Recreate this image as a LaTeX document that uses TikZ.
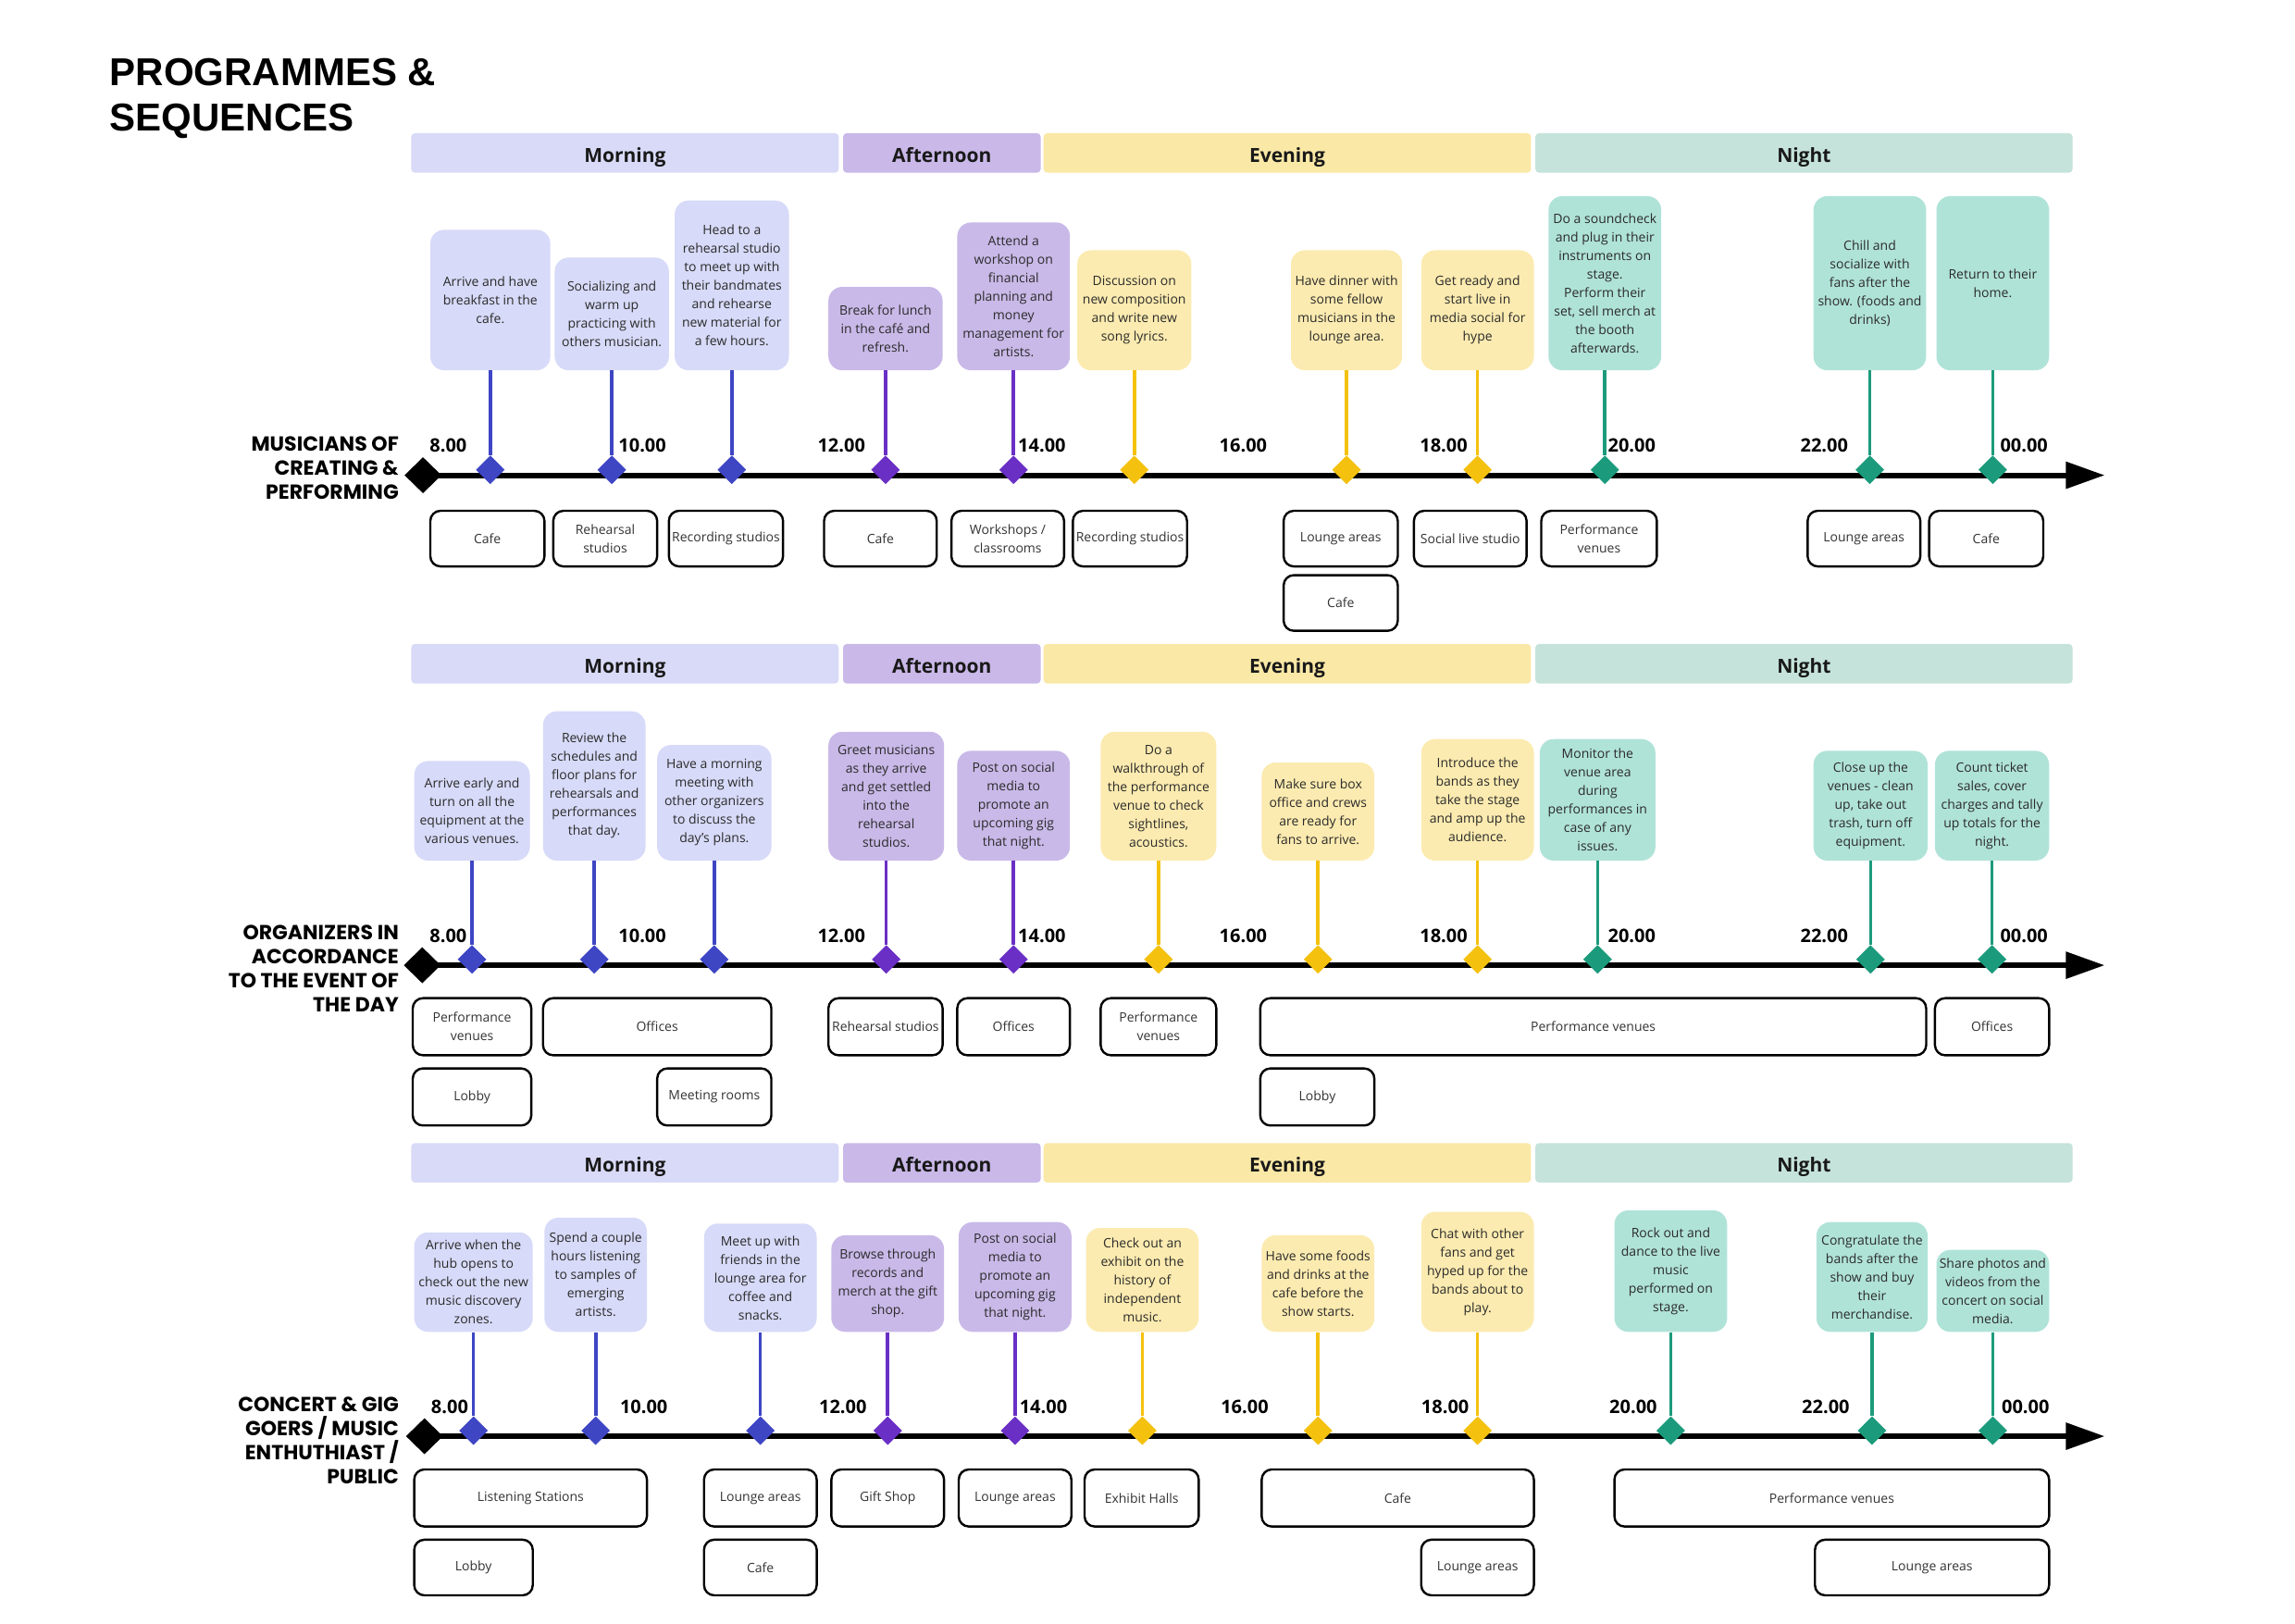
\documentclass[tikz,border=0pt]{standalone}
\usepackage{fontspec}
\setmainfont{Open Sans}
\newfontfamily\titleff{Liberation Sans}
\newfontfamily\rowff{Poppins}
\usetikzlibrary{shapes.geometric,arrows.meta}
\definecolor{barM}{HTML}{D8DAF7}
\definecolor{barA}{HTML}{C9B8E8}
\definecolor{barE}{HTML}{FAE8A6}
\definecolor{barN}{HTML}{C5E3DA}
\definecolor{cardM}{HTML}{D7DAF8}
\definecolor{cardA}{HTML}{C9B9E8}
\definecolor{cardE}{HTML}{FCEBB0}
\definecolor{cardN}{HTML}{B0E3D8}
\definecolor{stM}{HTML}{3E46C4}
\definecolor{stA}{HTML}{6A2FC5}
\definecolor{stE}{HTML}{F4C10F}
\definecolor{stN}{HTML}{1C9B7C}
\definecolor{txt}{HTML}{2B2B2B}
\definecolor{loctxt}{HTML}{333333}
\def\U{1.5816pt}
\newcommand\mkbox[8]{\node[#1,#7,minimum width={(#5-#3)*\U},minimum height={(#6-#4)*\U}] (#2) at ({(#3+#5)/2},{(#4+#6)/2}) {#8};}
\begin{document}
\begin{tikzpicture}[x=1.5816pt,y=-1.5816pt,
  card/.style={rounded corners=15pt,inner sep=0pt,align=center,text=txt,font=\fontsize{14}{20}\selectfont},
  locbox/.style={draw=black,line width=2.4pt,rounded corners=11pt,fill=white,inner sep=0pt,align=center,text=loctxt,font=\fontsize{14}{20}\selectfont},
  phase/.style={rounded corners=4pt,inner sep=0pt,text=black!90,text height=21pt,text depth=1pt,font=\bfseries\fontsize{21}{24}\selectfont},
  tick/.style={anchor=west,inner sep=0pt,text=black,font=\bfseries\fontsize{20}{24}\selectfont},
  stem/.style={line width=3.6pt},
  dia/.style={diamond,inner sep=0pt,minimum width=31pt,minimum height=31pt,draw=none},
  startdia/.style={diamond,inner sep=0pt,minimum width=40pt,minimum height=39pt,fill=black},
  axisline/.style={line width=6pt,-{Triangle[length=42pt,width=28pt]}},
  rowlab/.style={anchor=east,align=right,inner sep=0pt,text=black,font=\rowff\bfseries\fontsize{22}{26}\selectfont}]
\useasboundingbox (0,0) rectangle (1568,1109);
\fill[white] (0,0) rectangle (1568,1109);

% title
\node[anchor=north west,inner sep=0pt,align=left,font=\titleff\bfseries\fontsize{42}{49}\selectfont] (title) at (75,40) {PROGRAMMES \&\\SEQUENCES};

% phase bars
\foreach \r/\ya/\yb in {1/91/118,2/440/467,3/781/808}{
  \mkbox{phase}{bm\r}{281}{\ya}{573}{\yb}{fill=barM}{Morning}
  \mkbox{phase}{ba\r}{576}{\ya}{711}{\yb}{fill=barA}{Afternoon}
  \mkbox{phase}{be\r}{713}{\ya}{1046}{\yb}{fill=barE}{Evening}
  \mkbox{phase}{bn\r}{1049}{\ya}{1416}{\yb}{fill=barN}{Night}
}

% time labels
\foreach \r/\y/\dx in {1/304.5/0,2/639.5/0,3/961.3/1}{
  \foreach \lab/\x [count=\i] in {8.00/293.5,10.00/422.5,12.00/558.5,14.00/695.5,16.00/833,18.00/970,20.00/1098.5,22.00/1230,00.00/1366.5}{
    \node[tick] (tk\r-\i) at (\x+\dx,\y) {\lab};
  }
}

% row labels
\node[rowlab] (r1) at (272.5,320) {MUSICIANS OF\\CREATING \&\\PERFORMING};
\node[rowlab] (r2) at (272.5,662) {ORGANIZERS IN\\ACCORDANCE\\TO THE EVENT OF\\THE DAY};
\node[rowlab] (r3) at (272.5,984.5) {CONCERT \& GIG\\GOERS / MUSIC\\ENTHUTHIAST /\\PUBLIC};

% axes
\node[startdia] (s1) at (289,324.7) {};
\coordinate (e1) at (1438,324.7);
\draw[axisline] (s1.center) -- (e1);
\coordinate (dl1) at (0,321);
\node[startdia] (s2) at (288.5,659.5) {};
\coordinate (e2) at (1438,659.5);
\draw[axisline] (s2.center) -- (e2);
\coordinate (dl2) at (0,655.5);
\node[startdia] (s3) at (290,981.3) {};
\coordinate (e3) at (1438,981.3);
\draw[axisline] (s3.center) -- (e3);
\coordinate (dl3) at (0,977.5);

% ===== Row 1 cards
\mkbox{card}{m1}{294}{157}{376}{253}{fill=cardM}{Arrive and have\\breakfast in the\\cafe.}
\mkbox{card}{m2}{379}{176}{457}{253}{fill=cardM}{Socializing and\\warm up\\practicing with\\others musician.}
\mkbox{card}{m3}{461}{137}{539}{253}{fill=cardM}{Head to a\\rehearsal studio\\to meet up with\\their bandmates\\and rehearse\\new material for\\a few hours.}
\mkbox{card}{m4}{566}{196}{644}{253}{fill=cardA}{Break for lunch\\in the café and\\refresh.}
\mkbox{card}{m5}{654}{152}{731}{253}{fill=cardA}{Attend a\\workshop on\\financial\\planning and\\money\\management for\\artists.}
\mkbox{card}{m6}{736}{171}{814}{253}{fill=cardE}{Discussion on\\new composition\\and write new\\song lyrics.}
\mkbox{card}{m7}{882}{171}{958}{253}{fill=cardE}{Have dinner with\\some fellow\\musicians in the\\lounge area.}
\mkbox{card}{m8}{971}{171}{1048}{253}{fill=cardE}{Get ready and\\start live in\\media social for\\hype}
\mkbox{card}{m9}{1058}{134}{1135}{253}{fill=cardN}{Do a soundcheck\\and plug in their\\instruments on\\stage.\\Perform their\\set, sell merch at\\the booth\\afterwards.}
\mkbox{card}{m10}{1239}{134}{1316}{253}{fill=cardN}{Chill and\\socialize with\\fans after the\\show. (foods and\\drinks)}
\mkbox{card}{m11}{1323}{134}{1400}{253}{fill=cardN}{Return to their\\home.}
\foreach \c/\col in {m1/stM,m2/stM,m3/stM,m4/stA,m5/stA,m6/stE,m7/stE,m8/stE,m9/stN,m10/stN,m11/stN}{
  \node[dia,fill=\col] (d\c) at (\c.south |- dl1) {};
  \draw[stem,draw=\col] (\c.south) -- (d\c.north);
}
% Row 1 locations
\mkbox{locbox}{la1}{294}{349}{372}{387}{}{Cafe}
\mkbox{locbox}{la2}{378}{349}{449}{387}{}{Rehearsal\\studios}
\mkbox{locbox}{la3}{457}{349}{535}{387}{}{Recording studios}
\mkbox{locbox}{la4}{563}{349}{640}{387}{}{Cafe}
\mkbox{locbox}{la5}{650}{349}{727}{387}{}{Workshops /\\classrooms}
\mkbox{locbox}{la6}{733}{349}{811}{387}{}{Recording studios}
\mkbox{locbox}{la7}{877}{349}{955}{387}{}{Lounge areas}
\mkbox{locbox}{la8}{877}{393}{955}{431}{}{Cafe}
\mkbox{locbox}{la9}{966}{349}{1043}{387}{}{Social live studio}
\mkbox{locbox}{la10}{1053}{349}{1132}{387}{}{Performance\\venues}
\mkbox{locbox}{la11}{1235}{349}{1312}{387}{}{Lounge areas}
\mkbox{locbox}{la12}{1318}{349}{1396}{387}{}{Cafe}

% ===== Row 2 cards
\mkbox{card}{o1}{283}{520}{362}{588}{fill=cardM}{Arrive early and\\turn on all the\\equipment at the\\various venues.}
\mkbox{card}{o2}{371}{486}{441}{588}{fill=cardM}{Review the\\schedules and\\floor plans for\\rehearsals and\\performances\\that day.}
\mkbox{card}{o3}{449}{509}{527}{588}{fill=cardM}{Have a morning\\meeting with\\other organizers\\to discuss the\\day's plans.}
\mkbox{card}{o4}{566}{500}{645}{588}{fill=cardA}{Greet musicians\\as they arrive\\and get settled\\into the\\rehearsal\\studios.}
\mkbox{card}{o5}{654}{513}{731}{588}{fill=cardA}{Post on social\\media to\\promote an\\upcoming gig\\that night.}
\mkbox{card}{o6}{752}{500}{831}{588}{fill=cardE}{Do a\\walkthrough of\\the performance\\venue to check\\sightlines,\\acoustics.}
\mkbox{card}{o7}{862}{521}{939}{588}{fill=cardE}{Make sure box\\office and crews\\are ready for\\fans to arrive.}
\mkbox{card}{o8}{971}{505}{1048}{588}{fill=cardE}{Introduce the\\bands as they\\take the stage\\and amp up the\\audience.}
\mkbox{card}{o9}{1052}{505}{1131}{588}{fill=cardN}{Monitor the\\venue area\\during\\performances in\\case of any\\issues.}
\mkbox{card}{o10}{1239}{513}{1317}{588}{fill=cardN}{Close up the\\venues - clean\\up, take out\\trash, turn off\\equipment.}
\mkbox{card}{o11}{1322}{513}{1400}{588}{fill=cardN}{Count ticket\\sales, cover\\charges and tally\\up totals for the\\night.}
\foreach \c/\col in {o1/stM,o2/stM,o3/stM,o4/stA,o5/stA,o6/stE,o7/stE,o8/stE,o9/stN,o10/stN,o11/stN}{
  \node[dia,fill=\col] (d\c) at (\c.south |- dl2) {};
  \draw[stem,draw=\col] (\c.south) -- (d\c.north);
}
% Row 2 locations
\mkbox{locbox}{lb1}{282}{682}{363}{721}{}{Performance\\venues}
\mkbox{locbox}{lb2}{371}{682}{527}{721}{}{Offices}
\mkbox{locbox}{lb3}{566}{682}{644}{721}{}{Rehearsal studios}
\mkbox{locbox}{lb4}{654}{682}{731}{721}{}{Offices}
\mkbox{locbox}{lb5}{752}{682}{831}{721}{}{Performance\\venues}
\mkbox{locbox}{lb6}{861}{682}{1316}{721}{}{Performance venues}
\mkbox{locbox}{lb7}{1322}{682}{1400}{721}{}{Offices}
\mkbox{locbox}{lb8}{282}{730}{363}{769}{}{Lobby}
\mkbox{locbox}{lb9}{449}{730}{527}{769}{}{Meeting rooms}
\mkbox{locbox}{lb10}{861}{730}{939}{769}{}{Lobby}

% ===== Row 3 cards
\mkbox{card}{p1}{283}{842}{364}{910}{fill=cardM}{Arrive when the\\hub opens to\\check out the new\\music discovery\\zones.}
\mkbox{card}{p2}{372}{832}{442}{910}{fill=cardM}{Spend a couple\\hours listening\\to samples of\\emerging\\artists.}
\mkbox{card}{p3}{481}{836}{558}{910}{fill=cardM}{Meet up with\\friends in the\\lounge area for\\coffee and\\snacks.}
\mkbox{card}{p4}{568}{844}{645}{910}{fill=cardA}{Browse through\\records and\\merch at the gift\\shop.}
\mkbox{card}{p5}{655}{835}{732}{910}{fill=cardA}{Post on social\\media to\\promote an\\upcoming gig\\that night.}
\mkbox{card}{p6}{742}{839}{819}{910}{fill=cardE}{Check out an\\exhibit on the\\history of\\independent\\music.}
\mkbox{card}{p7}{862}{844}{939}{910}{fill=cardE}{Have some foods\\and drinks at the\\cafe before the\\show starts.}
\mkbox{card}{p8}{971}{828}{1048}{910}{fill=cardE}{Chat with other\\fans and get\\hyped up for the\\bands about to\\play.}
\mkbox{card}{p9}{1103}{827}{1180}{910}{fill=cardN}{Rock out and\\dance to the live\\music\\performed on\\stage.}
\mkbox{card}{p10}{1241}{835}{1317}{910}{fill=cardN}{Congratulate the\\bands after the\\show and buy\\their\\merchandise.}
\mkbox{card}{p11}{1323}{854}{1400}{910}{fill=cardN}{Share photos and\\videos from the\\concert on social\\media.}
\foreach \c/\col in {p1/stM,p2/stM,p3/stM,p4/stA,p5/stA,p6/stE,p7/stE,p8/stE,p9/stN,p10/stN,p11/stN}{
  \node[dia,fill=\col] (d\c) at (\c.south |- dl3) {};
  \draw[stem,draw=\col] (\c.south) -- (d\c.north);
}
% Row 3 locations
\mkbox{locbox}{lc1}{283}{1004}{442}{1043}{}{Listening Stations}
\mkbox{locbox}{lc2}{481}{1004}{558}{1043}{}{Lounge areas}
\mkbox{locbox}{lc3}{568}{1004}{645}{1043}{}{Gift Shop}
\mkbox{locbox}{lc4}{655}{1004}{732}{1043}{}{Lounge areas}
\mkbox{locbox}{lc5}{741}{1004}{819}{1043}{}{Exhibit Halls}
\mkbox{locbox}{lc6}{862}{1004}{1048}{1043}{}{Cafe}
\mkbox{locbox}{lc7}{1103}{1004}{1400}{1043}{}{Performance venues}
\mkbox{locbox}{lc8}{283}{1052}{364}{1090}{}{Lobby}
\mkbox{locbox}{lc9}{481}{1052}{558}{1090}{}{Cafe}
\mkbox{locbox}{lc10}{971}{1052}{1048}{1090}{}{Lounge areas}
\mkbox{locbox}{lc11}{1240}{1052}{1400}{1090}{}{Lounge areas}
\end{tikzpicture}
\end{document}
